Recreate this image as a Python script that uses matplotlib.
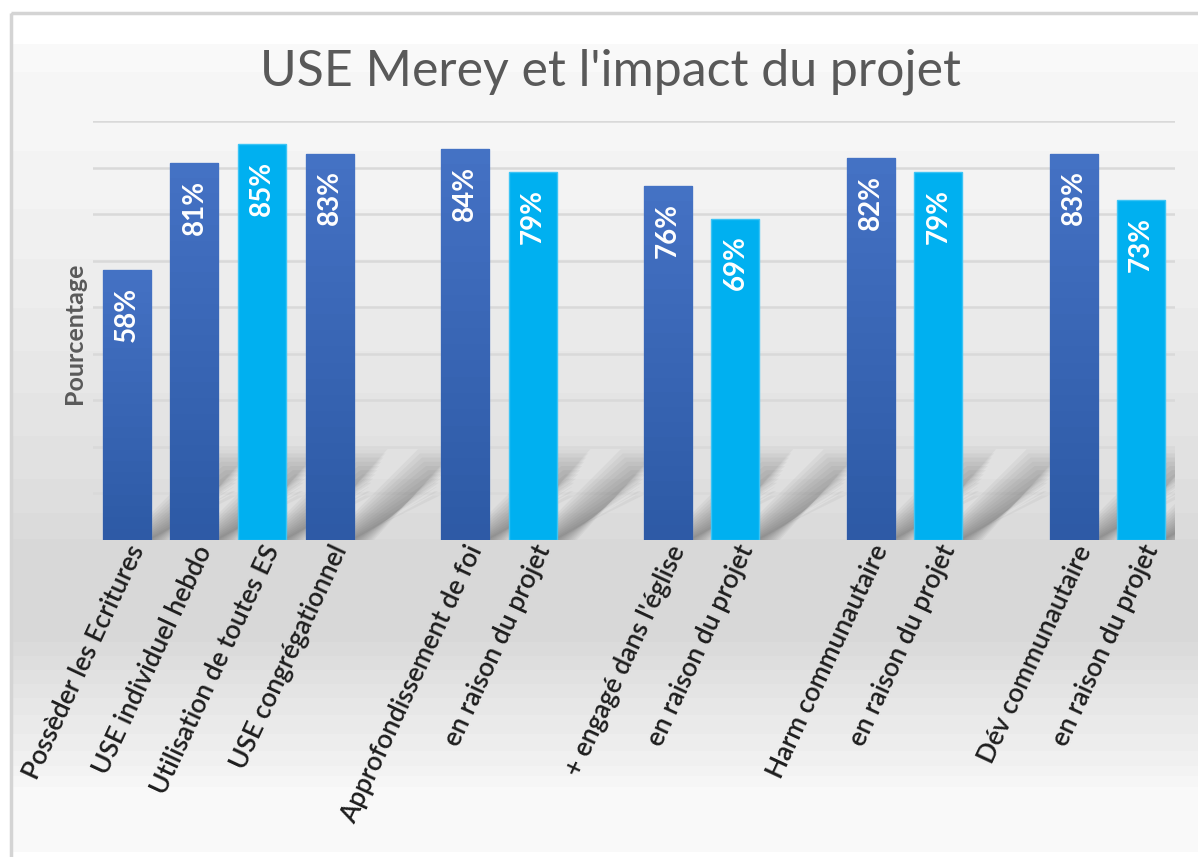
import numpy as np
import matplotlib
matplotlib.use("Agg")
import matplotlib.pyplot as plt
from matplotlib.patches import Rectangle, Polygon

# Data
categories = [
    "Possèder les Ecritures",
    "USE individuel hebdo",
    "Utilisation de toutes ES",
    "USE congrégationnel",
    "Approfondissement de foi",
    "en raison du projet",
    "+ engagé dans l'église",
    "en raison du projet",
    "Harm communautaire",
    "en raison du projet",
    "Dév communautaire",
    "en raison du projet",
]
values = [58, 81, 85, 83, 84, 79, 76, 69, 82, 79, 83, 73]
light = [False, False, True, False, False, True, False, True, False, True, False, True]
group_sizes = [4, 2, 2, 2, 2]

# bar positions: one empty slot between groups
positions = []
slot = 0
for size in group_sizes:
    for i in range(size):
        positions.append(slot)
        slot += 1
    slot += 1

plt.rcParams["font.family"] = ["Lato", "DejaVu Sans"]

fig = plt.figure(figsize=(11.98, 8.57), dpi=100)
fig.patch.set_facecolor("white")

# Background gradient (banded grey like the original slide)
bg = fig.add_axes([0, 0, 1, 1], zorder=-10)
bg.set_xlim(0, 1198)
bg.set_ylim(857, 0)
bg.axis("off")
ys = np.arange(44, 852)
stops_y = [44, 100, 200, 300, 400, 500, 560, 630, 700, 760, 792, 852]
stops_v = [248, 247, 242, 236, 229, 222, 215, 215, 230, 240, 249, 250]
shade = np.interp(ys, stops_y, stops_v)
shade = np.round(shade / 3) * 3  # banding
img = np.repeat(shade[:, None], 2, axis=1) / 255.0
bg.imshow(np.dstack([img, img, img]), extent=[12, 1198, 852, 44], aspect="auto")
bg.add_patch(Rectangle((10.5, 12.5), 1200, 900, fill=False, edgecolor="#d4d4d4", linewidth=2.5))

ax = fig.add_axes([93 / 1198, 317 / 857, (1175 - 93) / 1198, 419 / 857])
ax.set_facecolor("none")
ax.set_xlim(-0.5, slot - 1.5)
ax.set_ylim(0, 90)

ax.set_yticks(range(10, 91, 10))
ax.yaxis.grid(True, color="#d9d9d9", linewidth=1.8)
ax.set_axisbelow(True)
ax.tick_params(axis="y", length=0, labelleft=False)
ax.tick_params(axis="x", length=0, pad=1)
for s in ax.spines.values():
    s.set_visible(False)

bar_colors = ["#00B0F0" if l else "#3E6BBE" for l in light]
bars = ax.bar(positions, values, width=0.71, color=bar_colors, zorder=3,
              edgecolor=["#3cc4f5" if l else "#5a83cc" for l in light], linewidth=1)

# soft diagonal shadows behind bars (stacked translucent streaks)
for b in bars:
    x0 = b.get_x()
    w = b.get_width()
    x1 = x0 + w
    for k in range(12):
        shrink = k * 0.03
        h = 19.5 - k * 0.9
        poly = Polygon([(x0 + w * 0.45 + shrink, 0), (x1 + 0.3 - shrink, 0),
                        (x1 + 1.5 - shrink, h), (x1 + 0.95 + shrink, h)],
                       closed=True, facecolor="#4a4a4a", edgecolor="none",
                       alpha=0.055, zorder=2)
        ax.add_patch(poly)

# gradient fill for the dark blue bars
top = np.array([0x44, 0x72, 0xC4]) / 255
bot = np.array([0x2E, 0x5A, 0xA6]) / 255
t = np.linspace(0, 1, 24)[:, None]
grad = (top * (1 - t) + bot * t).reshape(24, 1, 3)
for b, l in zip(bars, light):
    if l:
        continue
    im = ax.imshow(grad, extent=[b.get_x(), b.get_x() + b.get_width(), 0, b.get_height()],
                   aspect="auto", zorder=3.5, interpolation="nearest")
    im.set_clip_path(b)
ax.set_xlim(-0.5, slot - 1.5)
ax.set_ylim(0, 90)

for b, v in zip(bars, values):
    ax.annotate(f"{v}%", (b.get_x() + b.get_width() / 2, b.get_height()),
                xytext=(0, -12), textcoords="offset points",
                ha="center", va="top", rotation=90, color="white",
                fontsize=20, fontweight="bold", zorder=5)

ax.set_xticks(positions)
ax.set_xticklabels(categories, rotation=65, ha="right", va="top",
                   rotation_mode="anchor", fontsize=19, fontweight="semibold",
                   color="#1e1e1e")

fig.text(75 / 1198, 1 - 333 / 857, "Pourcentage", rotation=90, ha="center", va="center",
         fontsize=18, fontweight="bold", color="#595959")
fig.text(610 / 1198, 1 - 72 / 857, "USE Merey et l'impact du projet", ha="center", va="center",
         fontsize=36, fontweight="normal", color="#595959")

plt.savefig("out.png", dpi=100)
